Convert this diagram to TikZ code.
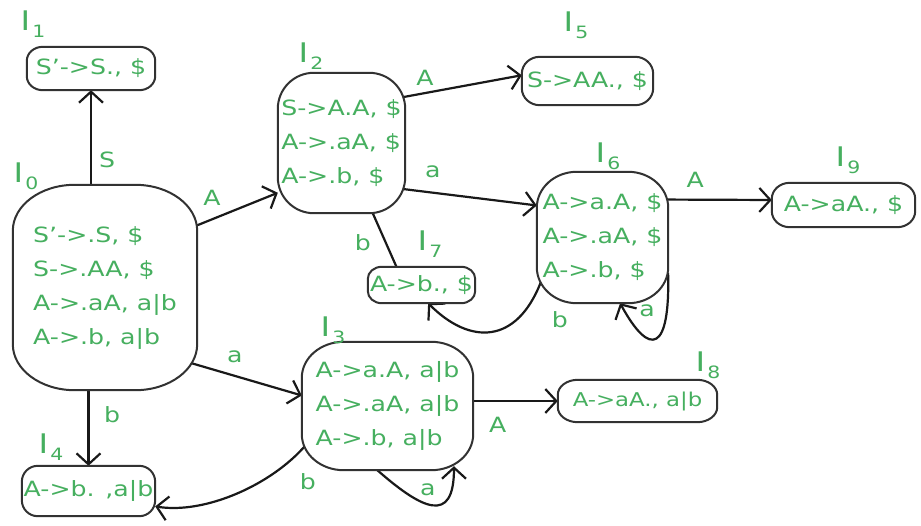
\documentclass[tikz,border=0pt]{standalone}
\usepackage{fontspec}
\setmainfont{DejaVu Sans}[FakeStretch=1.2]
\usetikzlibrary{arrows.meta}
\pgfdeclarelayer{edges}
\pgfdeclarelayer{shapes}
\pgfsetlayers{edges,shapes,main}
\definecolor{itemgreen}{RGB}{70,175,95}
\definecolor{boxgray}{RGB}{50,50,50}
\definecolor{wire}{RGB}{25,25,25}

% oval outline (elliptic corners) drawn behind a named item node
\newcommand\itembox[3]{%
  \begin{pgfonlayer}{shapes}
  \filldraw[boxline] ([xshift=#2]#1.north west) -- ([xshift=-#2]#1.north east)
    arc[start angle=90,end angle=0,x radius=#2,y radius=#3]
    -- ([yshift=#3]#1.south east)
    arc[start angle=0,end angle=-90,x radius=#2,y radius=#3]
    -- ([xshift=#2]#1.south west)
    arc[start angle=270,end angle=180,x radius=#2,y radius=#3]
    -- ([yshift=-#3]#1.north west)
    arc[start angle=180,end angle=90,x radius=#2,y radius=#3] -- cycle;
  \end{pgfonlayer}}
\newcommand\stateno[1]{I\kern2pt\raisebox{-7pt}{\fontsize{17}{17}\selectfont #1}}

\begin{document}
\begin{tikzpicture}[x=1pt,y=-1pt,
  boxline/.style={draw=boxgray, line width=2pt, fill=white},
  item/.style={inner sep=0pt, align=left, text=itemgreen,
    font=\fontsize{21}{34}\selectfont},
  smallitem/.style={item, font=\fontsize{19}{30}\selectfont},
  tag/.style={inner sep=0pt, text=itemgreen, font=\fontsize{27}{27}\selectfont},
  lbl/.style={inner sep=0pt, text=itemgreen, font=\fontsize{21}{21}\selectfont},
  wire/.style={draw=wire, line width=2.2pt},
  arr/.style={wire, -{Straight Barb[length=11pt,width=24pt]}}]
\useasboundingbox (0,0) rectangle (921,525);

% item sets
\node[item, minimum width=184pt, minimum height=205pt] (i0) at (105,287.5)
  {S'->.S, \$\\S->.AA, \$\\A->.aA, a|b\\A->.b, a|b};
\node[item, minimum width=128pt, minimum height=43pt] (i1) at (91,68.5) {S'->S., \$};
\node[item, minimum width=127pt, minimum height=140pt] (i2) at (341.5,143)
  {S->A.A, \$\\A->.aA, \$\\A->.b, \$};
\node[item, minimum width=131pt, minimum height=48pt] (i5) at (587.5,81) {S->AA., \$};
\node[item, minimum width=131pt, minimum height=131pt] (i6) at (602.5,237.5)
  {A->a.A, \$\\A->.aA, \$\\A->.b, \$};
\node[item, minimum width=107pt, minimum height=36pt] (i7) at (421.5,285) {A->b., \$};
\node[item, minimum width=143pt, minimum height=44pt] (i9) at (843.5,205) {A->aA., \$};
\node[item, minimum width=171pt, minimum height=128pt] (i3) at (387.5,406)
  {A->a.A, a|b\\A->.aA, a|b\\A->.b, a|b};
\node[smallitem, minimum width=159pt, minimum height=42pt] (i8) at (637.5,401) {A->aA., a|b};
\node[item, minimum width=133pt, minimum height=50pt] (i4) at (88.5,491) {A->b. ,a|b};

\itembox{i0}{62pt}{46pt}
\itembox{i1}{16pt}{14pt}
\itembox{i2}{36pt}{36pt}
\itembox{i5}{18pt}{17pt}
\itembox{i6}{40pt}{36pt}
\itembox{i7}{14pt}{12pt}
\itembox{i9}{18pt}{16pt}
\itembox{i3}{42pt}{36pt}
\itembox{i8}{20pt}{15pt}
\itembox{i4}{16pt}{16pt}

% state numbers
\node[tag] (t0) at (26,176) {\stateno{0}};
\node[tag] (t1) at (33,24) {\stateno{1}};
\node[tag] (t2) at (311,56) {\stateno{2}};
\node[tag] (t3) at (333,330) {\stateno{3}};
\node[tag] (t4) at (51,447) {\stateno{4}};
\node[tag] (t5) at (576,25) {\stateno{5}};
\node[tag] (t6) at (608,156) {\stateno{6}};
\node[tag] (t7) at (430,244) {\stateno{7}};
\node[tag] (t8) at (708,365) {\stateno{8}};
\node[tag] (t9) at (848,160) {\stateno{9}};

% transitions
\begin{pgfonlayer}{edges}
\fill[white] (0,0) rectangle (921,525);
\draw[arr] (i1.south |- i0.north) -- (i1.south)
  node[lbl, pos=0.26, xshift=16pt] {S};
\draw[arr, shorten <=-8pt] (i0.34) -- (i2.218)
  node[lbl, pos=0.185, yshift=21pt] {A};
\draw[arr, shorten <=-18pt] (i0.-40) -- (i3.173)
  node[lbl, pos=0.36, yshift=19pt] {a};
\draw[arr] (i4.north |- i0.south) -- (i4.north)
  node[lbl, pos=0.33, xshift=23.5pt] {b};
\draw[arr, shorten <=-6pt] (i2.36) -- (i5.175)
  node[lbl, pos=0.17, yshift=15pt] {A};
\draw[arr, shorten <=-6pt] (i2.-36) -- (i6.154)
  node[lbl, pos=0.21, yshift=20.5pt] {a};
\draw[wire, shorten <=-6pt] (i2.-66) -- (i7.144)
  node[lbl, pos=0.556, xshift=-23pt] {b};
\draw[arr, shorten <=-5pt] (i6.30) -- (i9.176)
  node[lbl, pos=0.26, yshift=20pt] {A};
\draw[arr, shorten <=-12pt] (i6.-140) .. controls +(-20,52) and +(42,42) .. (i7.-70)
  node[lbl, at start, xshift=23pt, yshift=-27.5pt] {b};
\draw[arr, shorten <=-4pt] (i6.-31) .. controls +(2,75) and +(30,55) .. (i6.-75)
  node[lbl, at end, xshift=27pt, yshift=-8pt] {a};
\draw[arr] (i8.west -| i3.east) -- (i8.west)
  node[lbl, pos=0.29, yshift=-24pt] {A};
\draw[arr, shorten <=-6pt] (i3.207) .. controls +(-30,35) and +(50,8) .. (i4.-13.5)
  node[lbl, at start, xshift=6pt, yshift=-32pt] {b};
\draw[arr, shorten <=-4pt, shorten >=-4pt] (i3.-99) .. controls +(45,40) and +(0,55) .. (i3.-44)
  node[lbl, at start, xshift=50.6pt, yshift=-20pt] {a};
\end{pgfonlayer}
\end{tikzpicture}
\end{document}
